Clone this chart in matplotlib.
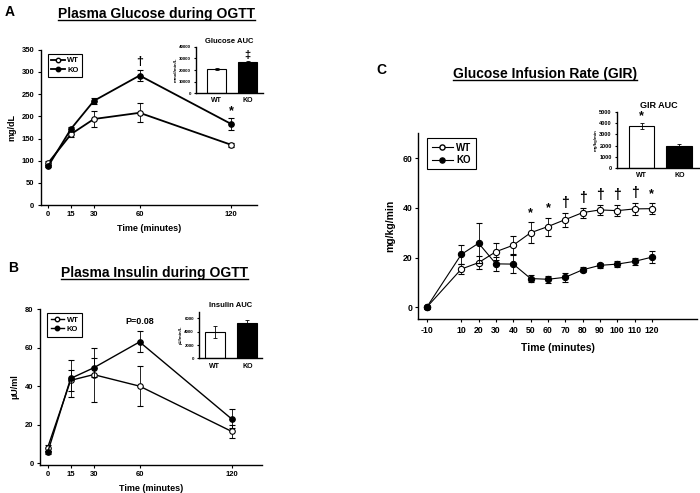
import matplotlib
matplotlib.use("Agg")
import matplotlib.pyplot as plt
from matplotlib.lines import Line2D

plt.rcParams['font.family'] = ['Liberation Sans', 'DejaVu Sans']
plt.rcParams['font.weight'] = 'bold'
plt.rcParams['axes.unicode_minus'] = False

# Panel A - plasma glucose during OGTT
ogtt_time = [0, 15, 30, 60, 120]
glu_wt = [95, 160, 194, 208, 136]
glu_wt_err = [5, 7, 17, 21, 5]
glu_ko = [88, 172, 235, 292, 183]
glu_ko_err = [3, 5, 7, 13, 14]
glu_auc = [21000, 27000]
glu_auc_err = [800, 1000]

# Panel B - plasma insulin during OGTT
ins_wt = [8, 43, 46, 40, 16.5]
ins_wt_err = [1.5, 5.5, 14, 10.5, 3.5]
ins_ko = [5.5, 44, 49.5, 63, 23]
ins_ko_err = [1, 9.5, 5, 5.5, 5]
ins_auc = [4000, 5300]
ins_auc_err = [900, 450]

# Panel C - glucose infusion rate
gir_time = [-10, 10, 20, 30, 40, 50, 60, 70, 80, 90, 100, 110, 120]
gir_wt = [0, 15.4, 18, 22.4, 25, 30, 32.5, 35.3, 38.1, 39.2, 38.9, 39.6, 39.7]
gir_wt_err = [0.5, 2, 2.5, 3.5, 3.7, 4.2, 3.6, 2.8, 2, 2, 2.3, 2.5, 2.3]
gir_ko = [0, 21.3, 25.8, 17.5, 17.4, 11.6, 11.3, 12.1, 15.1, 16.9, 17.4, 18.5, 20.2]
gir_ko_err = [0.5, 3.7, 8, 2.7, 3.7, 1.5, 1.5, 1.8, 1.0, 1.0, 1.2, 1.3, 2.3]
gir_auc = [3750, 2000]
gir_auc_err = [280, 120]

groups = ['WT', 'KO']

fig = plt.figure(figsize=(7, 4.93), dpi=100)


def underlined_title(x, y, s, size):
    t = fig.text(x, y, s, ha='center', va='center', fontsize=size,
                 fontweight='bold', family=['Liberation Sans'])
    fig.canvas.draw()
    bb = t.get_window_extent().transformed(fig.transFigure.inverted())
    fig.add_artist(Line2D([bb.x0, bb.x1], [bb.y0 + 0.002, bb.y0 + 0.002],
                          color='black', lw=1.0, transform=fig.transFigure))


def style_axes(ax, size):
    for s in ['top', 'right']:
        ax.spines[s].set_visible(False)
    for s in ['left', 'bottom']:
        ax.spines[s].set_linewidth(1.0)
    ax.tick_params(direction='out', length=2.5, width=0.8, labelsize=size, pad=2)
    for lab in ax.get_xticklabels() + ax.get_yticklabels():
        lab.set_fontweight('bold')


def line_panel(ax, x, wt, wt_err, ko, ko_err, ms, lw, legsize, hlen):
    ax.errorbar(x, wt, yerr=wt_err, color='black', lw=lw, marker='o', ms=ms,
                mfc='white', mec='black', mew=0.8, capsize=2, elinewidth=0.6,
                capthick=0.6, label='WT', zorder=3)
    ax.errorbar(x, ko, yerr=ko_err, color='black', lw=lw, marker='o', ms=ms,
                mfc='black', mec='black', mew=0.8, capsize=2, elinewidth=0.6,
                capthick=0.6, label='KO', zorder=4)
    handles = [Line2D([], [], color='black', lw=lw, marker='o', ms=ms - 0.8, mfc='white', mec='black'),
               Line2D([], [], color='black', lw=lw, marker='o', ms=ms - 0.8, mfc='black', mec='black')]
    leg = ax.legend(handles, groups, loc='upper left', bbox_to_anchor=(0.015, 1.0),
                    fancybox=False, edgecolor='black', framealpha=1,
                    prop={'size': legsize, 'weight': 'bold'}, handlelength=hlen,
                    borderpad=0.45, labelspacing=0.25, handletextpad=0.3)
    leg.get_frame().set_linewidth(0.8)


def auc_inset(ax, vals, errs, ticks, ylim, ylabel, title, width, tsize):
    ax.bar([0, 1], vals, width=width, yerr=errs, color=['white', 'black'],
           edgecolor='black', linewidth=0.8,
           error_kw=dict(elinewidth=0.6, capsize=1.5, capthick=0.6))
    ax.set_ylim(*ylim)
    ax.set_yticks(ticks)
    ax.set_xticks([0, 1])
    ax.set_xticklabels(groups)
    style_axes(ax, 3.2)
    ax.tick_params(axis='x', labelsize=5, length=0, pad=3)
    ax.tick_params(axis='y', length=1.5)
    ax.set_ylabel(ylabel, fontsize=3.2, fontweight='bold', labelpad=1)
    ax.set_title(title, fontsize=tsize, fontweight='bold', pad=3)


# ---- Panel A ----
axA = fig.add_axes([0.058, 0.584, 0.309, 0.315])
line_panel(axA, ogtt_time, glu_wt, glu_wt_err, glu_ko, glu_ko_err, 4, 1.3, 5.5, 1.8)
axA.set_xlim(-5, 137)
axA.set_ylim(0, 350)
axA.set_xticks(ogtt_time)
axA.set_yticks(range(0, 351, 50))
style_axes(axA, 5.5)
axA.set_xlabel('Time (minutes)', fontsize=6.5, fontweight='bold', labelpad=4)
axA.set_ylabel('mg/dL', fontsize=6.5, fontweight='bold', labelpad=4)
axA.text(60, 322, '†', ha='center', va='center', fontsize=9)
axA.text(120, 212, '*', ha='center', va='center', fontsize=9)

insA = fig.add_axes([0.2796, 0.811, 0.0964, 0.094])
auc_inset(insA, glu_auc, glu_auc_err, range(0, 40001, 10000), (0, 40000),
          'mmol/min/L', 'Glucose AUC', 0.6, 5.5)
insA.set_xlim(-0.68, 1.5)
insA.text(1, 33000, '‡', ha='center', va='center', fontsize=8)

# ---- Panel B ----
axB = fig.add_axes([0.0571, 0.0568, 0.317, 0.316])
line_panel(axB, ogtt_time, ins_wt, ins_wt_err, ins_ko, ins_ko_err, 4, 1.0, 5.5, 1.8)
axB.set_xlim(-5, 139.8)
axB.set_ylim(-1, 80)
axB.set_xticks(ogtt_time)
axB.set_yticks(range(0, 81, 20))
style_axes(axB, 5.5)
axB.set_xlabel('Time (minutes)', fontsize=6.5, fontweight='bold', labelpad=4)
axB.set_ylabel('µU/ml', fontsize=6.5, fontweight='bold', labelpad=4)
axB.text(60, 73.5, 'P=0.08', ha='center', va='center', fontsize=6.5)

insB = fig.add_axes([0.284, 0.273, 0.09, 0.095])
auc_inset(insB, ins_auc, ins_auc_err, range(0, 6001, 2000), (0, 7000),
          'µU/min/L', 'Insulin AUC', 0.61, 5.5)
insB.set_xlim(-0.49, 1.44)

# ---- Panel C ----
axC = fig.add_axes([0.5976, 0.3523, 0.398, 0.3773])
line_panel(axC, gir_time, gir_wt, gir_wt_err, gir_ko, gir_ko_err, 4.5, 0.8, 7, 2.2)
axC.set_xlim(-14.8, 146)
axC.set_ylim(-4.8, 70)
axC.set_xticks(gir_time)
axC.set_yticks(range(0, 61, 20))
style_axes(axC, 6.2)
axC.set_xlabel('Time (minutes)', fontsize=7.5, fontweight='bold', labelpad=6)
axC.set_ylabel('mg/kg/min', fontsize=7.5, fontweight='bold', labelpad=5)
marks = {50: '*', 60: '*', 70: '†', 80: '†', 90: '†', 100: '†', 110: '†', 120: '*'}
for t, m in marks.items():
    i = gir_time.index(t)
    top = gir_wt[i] + gir_wt_err[i]
    if m == '*':
        axC.text(t, top + 3.6, m, ha='center', va='center', fontsize=9)
    else:
        axC.text(t, top + 4.0, m, ha='center', va='center', fontsize=10)

insC = fig.add_axes([0.881, 0.6586, 0.119, 0.1148])
auc_inset(insC, gir_auc, gir_auc_err, range(0, 5001, 1000), (0, 5000),
          'mg/kg/min', 'GIR AUC', 0.68, 6.5)
insC.tick_params(axis='y', labelsize=4)
insC.set_xlim(-0.66, 1.55)
insC.text(0, 4650, '*', ha='center', va='center', fontsize=9)

# titles and panel letters
underlined_title(0.224, 0.972, 'Plasma Glucose during OGTT', 10)
underlined_title(0.221, 0.447, 'Plasma Insulin during OGTT', 10)
underlined_title(0.779, 0.85, 'Glucose Infusion Rate (GIR)', 10)
fig.text(0.006, 0.99, 'A', fontsize=10, fontweight='bold', va='top')
fig.text(0.012, 0.47, 'B', fontsize=10, fontweight='bold', va='top')
fig.text(0.537, 0.872, 'C', fontsize=10, fontweight='bold', va='top')

fig.savefig('out.png', dpi=100)
